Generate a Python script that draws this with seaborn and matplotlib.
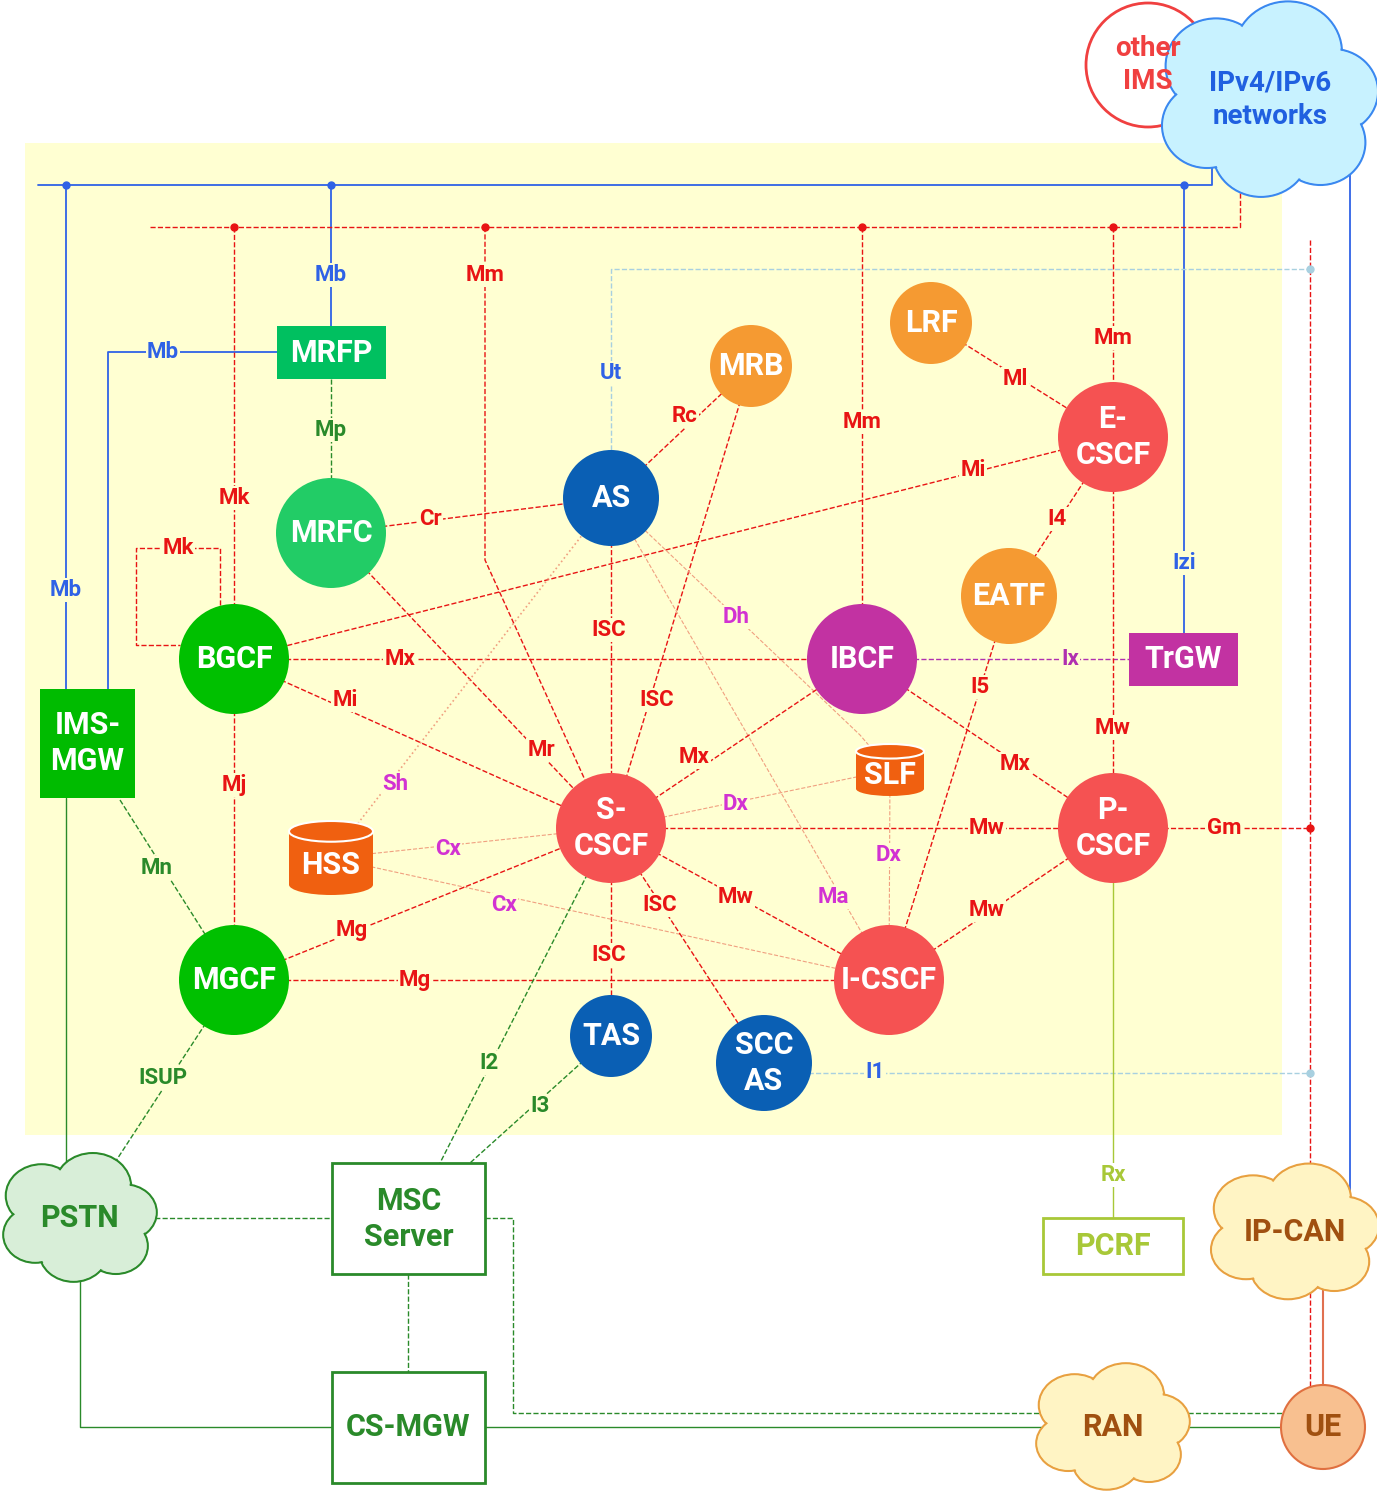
import numpy as np
import matplotlib.pyplot as plt
import seaborn as sns
from matplotlib.patches import Circle, Rectangle, Ellipse

sns.set_theme(style='white')
plt.rcParams['font.family'] = ['Liberation Sans Narrow', 'Roboto', 'DejaVu Sans']

RED = '#e81414'; BLUE = '#2f62e6'; GRN = '#2a8a2a'; MAG = '#d232d2'; YG = '#a8c838'
LBLUE = '#a8d0e0'; SALMON = '#f0a080'

# nodes: name, x, y, radius, fill colour
circ_names = ['MRFC', 'AS', 'MRB', 'LRF', 'E-\nCSCF', 'EATF', 'IBCF', 'BGCF', 'S-\nCSCF',
              'P-\nCSCF', 'MGCF', 'I-CSCF', 'TAS', 'SCC\nAS']
circ_x = [331, 611, 751, 931, 1113, 1009, 862, 234, 611, 1113, 234, 889, 611, 764]
circ_y = [533, 498, 366, 323, 437, 596, 659, 659, 828, 828, 980, 980, 1036, 1063]
circ_r = [55, 48, 41, 41, 55, 48, 55, 55, 55, 55, 55, 55, 41, 48]
circ_c = ['#22cc66', '#0a5fb4', '#f59a32', '#f59a32', '#f55252', '#f59a32', '#c232a2',
          '#00c000', '#f55252', '#f55252', '#00c000', '#f55252', '#0a5fb4', '#0a5fb4']

rect_names = ['MRFP', 'TrGW', 'IMS-\nMGW']
rect_box = [(277, 326, 109, 53), (1129, 633, 109, 53), (40, 689, 95, 109)]
rect_c = ['#00c060', '#c232a2', '#00bb00']

# (x, y, label, colour) edge labels
edge_labels = [
    (331, 275, 'Mb', BLUE), (163, 352, 'Mb', BLUE), (66, 590, 'Mb', BLUE), (1184, 563, 'Izi', BLUE),
    (485, 275, 'Mm', RED), (862, 422, 'Mm', RED), (1113, 338, 'Mm', RED), (234, 498, 'Mk', RED),
    (178, 548, 'Mk', RED), (331, 430, 'Mp', GRN), (430, 519, 'Cr', RED), (685, 416, 'Rc', RED),
    (611, 373, 'Ut', BLUE), (1015, 379, 'Ml', RED), (973, 470, 'Mi', RED), (1057, 519, 'I4', RED),
    (980, 687, 'I5', RED), (400, 659, 'Mx', RED), (1070, 659, 'Ix', '#b030b0'), (345, 700, 'Mi', RED),
    (609, 630, 'ISC', RED), (657, 700, 'ISC', RED), (736, 617, 'Dh', MAG), (541, 750, 'Mr', RED),
    (694, 757, 'Mx', RED), (1015, 764, 'Mx', RED), (1113, 728, 'Mw', RED), (395, 784, 'Sh', MAG),
    (736, 804, 'Dx', MAG), (889, 855, 'Dx', MAG), (987, 828, 'Mw', RED), (1224, 828, 'Gm', RED),
    (448, 849, 'Cx', MAG), (504, 905, 'Cx', MAG), (736, 897, 'Mw', RED), (833, 897, 'Ma', MAG),
    (660, 905, 'ISC', RED), (609, 955, 'ISC', RED), (987, 910, 'Mw', RED), (234, 785, 'Mj', RED),
    (352, 930, 'Mg', RED), (415, 980, 'Mg', RED), (157, 868, 'Mn', GRN), (875, 1072, 'I1', BLUE),
    (163, 1078, 'ISUP', GRN), (489, 1063, 'I2', GRN), (540, 1106, 'I3', GRN), (1113, 1175, 'Rx', YG),
]

# polylines: xs, ys, colour, style, width
lines = [
    ([38, 1212, 1212], [185, 185, 165], BLUE, '-', 1.3),
    ([66, 66], [185, 689], BLUE, '-', 1.3), ([331, 331], [185, 326], BLUE, '-', 1.3),
    ([277, 108, 108], [352, 352, 689], BLUE, '-', 1.3), ([1184, 1184], [185, 633], BLUE, '-', 1.3),
    ([1330, 1350, 1350], [135, 135, 1195], BLUE, '-', 1.3),
    ([150, 1240, 1240], [227, 227, 175], RED, '--', 1),
    ([234, 234], [227, 605], RED, '--', 1), ([485, 485, 585], [227, 560, 780], RED, '--', 1),
    ([862, 862], [227, 605], RED, '--', 1), ([1113, 1113], [227, 383], RED, '--', 1),
    ([220, 220, 136, 136, 180], [605, 548, 548, 645, 645], RED, '--', 1),
    ([331, 331], [379, 480], GRN, '--', 1),
    ([331, 611], [533, 498], RED, '--', 1), ([611, 751], [498, 366], RED, '--', 1),
    ([611, 611, 1310], [450, 269, 269], LBLUE, '--', 1),
    ([931, 1113], [323, 437], RED, '--', 1), ([1113, 234], [437, 659], RED, '--', 1),
    ([1113, 1009], [437, 596], RED, '--', 1), ([1009, 889], [596, 980], RED, '--', 1),
    ([234, 862], [659, 659], RED, '--', 1), ([862, 1129], [659, 659], '#b030b0', '--', 1),
    ([234, 611], [659, 828], RED, '--', 1), ([611, 611], [498, 828], RED, '--', 1),
    ([751, 611], [366, 828], RED, '--', 1), ([611, 860, 890], [498, 735, 770], SALMON, '--', 0.8),
    ([611, 889], [498, 980], SALMON, '--', 0.8), ([331, 611], [533, 828], RED, '--', 1),
    ([611, 862], [828, 659], RED, '--', 1), ([862, 1113], [659, 828], RED, '--', 1),
    ([1113, 1113], [437, 828], RED, '--', 1), ([611, 331], [498, 858], SALMON, ':', 1.2),
    ([611, 890], [828, 770], SALMON, '--', 0.8), ([890, 889], [770, 980], SALMON, '--', 0.8),
    ([611, 1310], [828, 828], RED, '--', 1), ([331, 611], [858, 828], SALMON, '--', 0.8),
    ([331, 889], [858, 980], SALMON, '--', 0.8), ([611, 889], [828, 980], RED, '--', 1),
    ([611, 764], [828, 1063], RED, '--', 1), ([611, 611], [828, 1036], RED, '--', 1),
    ([889, 1113], [980, 828], RED, '--', 1), ([234, 234], [659, 980], RED, '--', 1),
    ([234, 611], [980, 828], RED, '--', 1), ([234, 889], [980, 980], RED, '--', 1),
    ([120, 234], [800, 980], GRN, '--', 1), ([764, 1310], [1073, 1073], LBLUE, '--', 1),
    ([234, 110], [980, 1170], GRN, '--', 1), ([611, 440], [828, 1163], GRN, '--', 1),
    ([611, 470], [1036, 1163], GRN, '--', 1), ([1113, 1113], [828, 1218], YG, '-', 1),
    ([66, 66], [798, 1170], GRN, '-', 1), ([140, 332], [1218, 1218], GRN, '--', 1),
    ([408, 408], [1274, 1372], GRN, '--', 1), ([80, 80, 332], [1260, 1427, 1427], GRN, '-', 1),
    ([485, 1323], [1427, 1427], GRN, '-', 1),
    ([485, 513, 513, 1323], [1218, 1218, 1413, 1413], GRN, '--', 1),
    ([1310, 1310], [240, 1400], RED, '--', 1), ([1323, 1323], [1280, 1400], '#e07050', '-', 1.5),
]
dots = [(66, 185, BLUE), (331, 185, BLUE), (1184, 185, BLUE), (234, 227, RED), (485, 227, RED),
        (862, 227, RED), (1113, 227, RED), (1310, 828, RED), (1310, 269, LBLUE), (1310, 1073, LBLUE)]

fig = plt.figure(figsize=(13.77, 14.94), dpi=100)
ax = fig.add_axes([0, 0, 1, 1])
ax.set_xlim(0, 1377); ax.set_ylim(1494, 0); ax.axis('off')
ax.add_patch(Rectangle((25, 143), 1257, 992, fc='#ffffd2', ec='none', zorder=0))

for xs, ys, c, ls, lw in lines:
    ax.plot(xs, ys, color=c, ls=ls, lw=lw, zorder=1)
for x, y, c in dots:
    ax.plot(x, y, 'o', color=c, ms=5, zorder=2)

NF = dict(fontsize=22, fontweight='bold', ha='center', va='center', zorder=6, linespacing=1.25)
for n, x, y, r, c in zip(circ_names, circ_x, circ_y, circ_r, circ_c):
    ax.add_patch(Circle((x, y), r, fc=c, ec='none', zorder=5))
    ax.text(x, y, n, color='white', **NF)
for n, (x, y, w, h), c in zip(rect_names, rect_box, rect_c):
    ax.add_patch(Rectangle((x, y), w, h, fc=c, ec='none', zorder=5))
    ax.text(x + w / 2, y + h / 2, n, color='white', **NF)

def cylinder(cx, cy, w, h, name):
    e = h * 0.28
    ax.add_patch(Ellipse((cx, cy + h / 2 - e / 2), w, e, fc='#f06010', ec='none', zorder=5))
    ax.add_patch(Rectangle((cx - w / 2, cy - h / 2 + e / 2), w, h - e, fc='#f06010', ec='none', zorder=5))
    ax.add_patch(Ellipse((cx, cy - h / 2 + e / 2), w, e, fc='#f06010', ec='white', lw=1.5, zorder=5))
    ax.text(cx, cy + e / 3, name, color='white', **NF)

cylinder(890, 770, 68, 52, 'SLF')
cylinder(331, 858, 84, 74, 'HSS')

def cloud(cx, cy, w, h, fc, ec, name, tc, fs=22):
    lobes = [(-0.3, -0.2, 0.28), (0.1, -0.28, 0.3), (0.35, -0.05, 0.25), (0.28, 0.25, 0.25),
             (-0.05, 0.3, 0.27), (-0.35, 0.15, 0.25), (0, 0, 0.38)]
    for fill_only in (False, True):
        for dx, dy, r in lobes:
            ax.add_patch(Ellipse((cx + dx * w, cy + dy * h), 2 * r * w - (3 if fill_only else 0),
                                 2 * r * h - (3 if fill_only else 0), fc=fc,
                                 ec='none' if fill_only else ec, lw=1.5, zorder=5))
    ax.text(cx, cy, name, color=tc, fontsize=fs, fontweight='bold', ha='center', va='center',
            zorder=6, linespacing=1.3)

ax.add_patch(Circle((1148, 65), 62, fc='white', ec='#f04040', lw=2, zorder=4))
ax.text(1148, 65, 'other\nIMS', color='#f04040', fontsize=20, fontweight='bold', ha='center',
        va='center', zorder=6, linespacing=1.3)
cloud(1270, 100, 180, 170, '#c8f2ff', '#3a88f0', 'IPv4/IPv6\nnetworks', '#2060e0', 20)
cloud(80, 1218, 128, 112, '#d8eed8', GRN, 'PSTN', GRN)
cloud(1295, 1232, 140, 118, '#fff4c4', '#e8a040', 'IP-CAN', '#a05010')
cloud(1113, 1427, 128, 110, '#fff4c4', '#e8a040', 'RAN', '#a05010')
ax.add_patch(Circle((1323, 1427), 42, fc='#f8c090', ec='#e07040', lw=1.5, zorder=5))
ax.text(1323, 1427, 'UE', color='#a05010', **NF)

for (x, y, w, h), n, ec in [((332, 1163, 153, 111), 'MSC\nServer', GRN),
                            ((332, 1372, 153, 111), 'CS-MGW', GRN),
                            ((1043, 1218, 140, 56), 'PCRF', YG)]:
    ax.add_patch(Rectangle((x, y), w, h, fc='white', ec=ec, lw=2, zorder=5))
    ax.text(x + w / 2, y + h / 2, n, color=ec, **NF)

for x, y, t, c in edge_labels:
    bg = '#ffffd2' if 143 < y < 1135 and 25 < x < 1282 else 'white'
    ax.text(x, y, t, color=c, fontsize=16, fontweight='bold', ha='center', va='center', zorder=4,
            bbox=dict(fc=bg, ec='none', pad=1))

fig.savefig('out.png', dpi=100)
